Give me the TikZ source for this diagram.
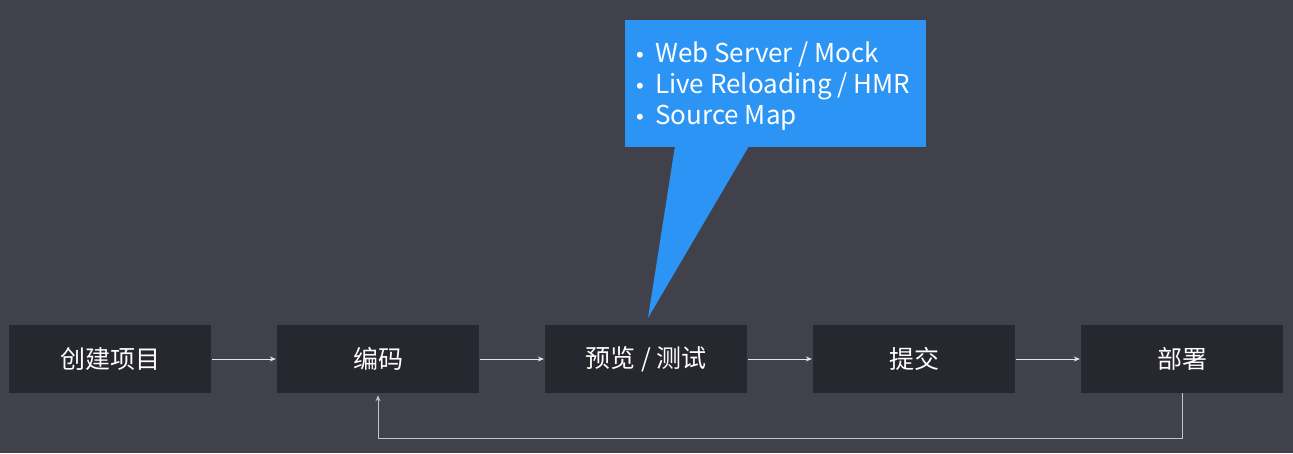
\documentclass[tikz,border=0pt]{standalone}
\usepackage{fontspec}
\setmainfont{Noto Sans CJK SC}
\newfontfamily\bulfont{Liberation Sans}
\usetikzlibrary{arrows.meta}
\definecolor{bg}{HTML}{41414B}
\definecolor{boxc}{HTML}{26272F}
\definecolor{blue}{HTML}{2C94F4}
\definecolor{linec}{HTML}{E6E6EA}
\definecolor{fbline}{HTML}{C4C4CC}
\newcommand{\bul}{\makebox[19pt][l]{\bulfont\fontsize{22}{31}\selectfont •}}
\tikzset{
  stagebox/.style={fill=boxc, draw=none, minimum width=202pt, minimum height=68pt, inner sep=0pt,
    text=white, font=\fontsize{25}{28}\selectfont},
  flow/.style={draw=linec, line width=0.9pt, -{Stealth[length=6pt,width=5pt]}},
  back/.style={draw=fbline, line width=1pt, -{Stealth[length=6pt,width=5pt]}},
}
\begin{document}
\begin{tikzpicture}[x=1pt,y=-1pt]
\useasboundingbox[fill=bg] (0,0) rectangle (1293,453);
\node[stagebox] (b1) at (110,359) {创建项目};
\node[stagebox] (b2) at (378,359) {编码};
\node[stagebox] (b3) at (646,359) {预览 / 测试};
\node[stagebox] (b4) at (914,359) {提交};
\node[stagebox] (b5) at (1182,359) {部署};
% callout
\node[fill=blue, minimum width=301pt, minimum height=127pt, inner sep=0pt] (call) at (775.5,83.5) {};
\coordinate (tip) at (648,318);
\fill[blue] (675,146) -- (tip) -- (749,146) -- cycle;
\node[anchor=north west, text=white, align=left, inner sep=0pt,
  font=\fontsize{26}{31}\selectfont] (txt) at (636,42)
  {\bul Web Server / Mock\\\bul Live Reloading / HMR\\\bul Source Map};
% flow arrows
\draw[flow, shorten <=1pt, shorten >=1pt] (b1.east) -- (b2.west);
\draw[flow, shorten <=1pt, shorten >=1pt] (b2.east) -- (b3.west);
\draw[flow, shorten <=1pt, shorten >=1pt] (b3.east) -- (b4.west);
\draw[flow, shorten <=1pt, shorten >=1pt] (b4.east) -- (b5.west);
% feedback
\coordinate (fb) at (1182,438);
\draw[back, shorten >=2pt] (b5.south) -- (fb) -| (b2.south);
\end{tikzpicture}
\end{document}
